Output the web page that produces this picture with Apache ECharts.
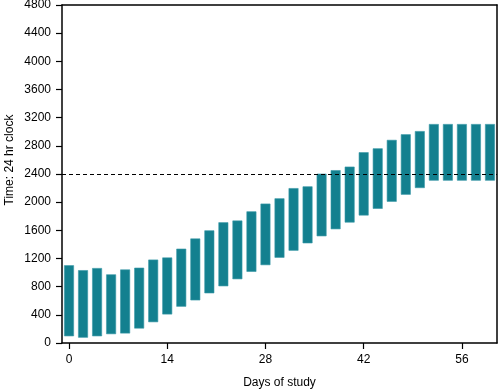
<!DOCTYPE html>
<html>
<head>
<meta charset="utf-8">
<script src="https://cdn.jsdelivr.net/npm/echarts@6/dist/echarts.min.js"></script>
<style>
  html, body { margin: 0; padding: 0; background: #fff; }
  #chart { width: 499px; height: 389px; }
</style>
</head>
<body>
<div id="chart"></div>
<script>
const days = [0,2,4,6,8,10,12,14,16,18,20,22,24,26,28,30,32,34,36,38,40,42,44,46,48,50,52,54,56,58,60];
const lowTimes = [100,80,100,130,140,210,300,410,520,610,710,810,910,1015,1110,1215,1315,1420,1520,1620,1715,1815,1910,2010,2110,2205,2310,2310,2310,2310,2310];
const highTimes = [1100,1030,1060,970,1040,1065,1180,1210,1335,1480,1595,1710,1735,1865,1975,2050,2195,2220,2400,2450,2500,2705,2760,2880,2960,3005,3105,3105,3105,3105,3105];
const xTicks = [0,14,28,42,56];
const referenceTime = 2400;

const chart = echarts.init(document.getElementById('chart'), null, { renderer: 'canvas' });
const font = 'Liberation Sans, Arial, Helvetica, sans-serif';

const rangeData = days.map((d, i) => [d, lowTimes[i], highTimes[i]]);
const frameAxis = {
  axisLine: { show: true, onZero: false, lineStyle: { color: '#000', width: 1.5 } },
  axisTick: { show: false }, axisLabel: { show: false }, splitLine: { show: false }
};

chart.setOption({
  animation: false,
  grid: { left: 62, right: 2, top: 5, bottom: 46, outerBoundsMode: 'none', containLabel: false },
  xAxis: [{
    type: 'value', min: -1, max: 61,
    name: 'Days of study', nameLocation: 'middle', nameGap: 40,
    nameTextStyle: { fontFamily: font, fontSize: 12, color: '#000', verticalAlign: 'middle' },
    axisLine: { show: true, onZero: false, lineStyle: { color: '#000', width: 1.5 } },
    axisTick: { show: true, length: 6, lineStyle: { color: '#000', width: 1.2 }, customValues: xTicks },
    axisLabel: { fontFamily: font, fontSize: 12, color: '#000', margin: 11, customValues: xTicks },
    splitLine: { show: false }
  }, Object.assign({ type: 'value', position: 'top', min: -1, max: 61 }, frameAxis)],
  yAxis: [{
    type: 'value', min: 0, max: 4800, interval: 400,
    axisLine: { show: true, onZero: false, lineStyle: { color: '#000', width: 1.5 } },
    axisTick: { show: true, length: 6, lineStyle: { color: '#000', width: 1.2 } },
    axisLabel: { fontFamily: font, fontSize: 12, color: '#000', margin: 11, formatter: function (v) { return String(v); } },
    splitLine: { show: false }
  }, Object.assign({ type: 'value', position: 'right', min: 0, max: 4800 }, frameAxis)],
  graphic: [{
    type: 'text',
    x: 10, y: 160,
    rotation: Math.PI / 2,
    style: {
      text: 'Time: 24 hr clock',
      fontFamily: font, fontSize: 12, fill: '#000',
      align: 'center', verticalAlign: 'middle'
    }
  }],
  series: [{
    type: 'custom',
    data: rangeData,
    encode: { x: 0, y: [1, 2] },
    renderItem: function (params, api) {
      const x = api.value(0);
      const lo = api.coord([x, api.value(1)]);
      const hi = api.coord([x, api.value(2)]);
      const w = 9.3;
      return {
        type: 'rect',
        shape: { x: lo[0] - w / 2, y: hi[1], width: w, height: lo[1] - hi[1] },
        style: { fill: '#13808f', stroke: '#3a99a8', lineWidth: 0.6 }
      };
    },
    markLine: {
      silent: true,
      symbol: ['none', 'none'],
      label: { show: false },
      lineStyle: { color: '#000', type: [4, 3], width: 1.2 },
      data: [{ yAxis: referenceTime }]
    },
    z: 2
  }]
});
</script>
</body>
</html>
